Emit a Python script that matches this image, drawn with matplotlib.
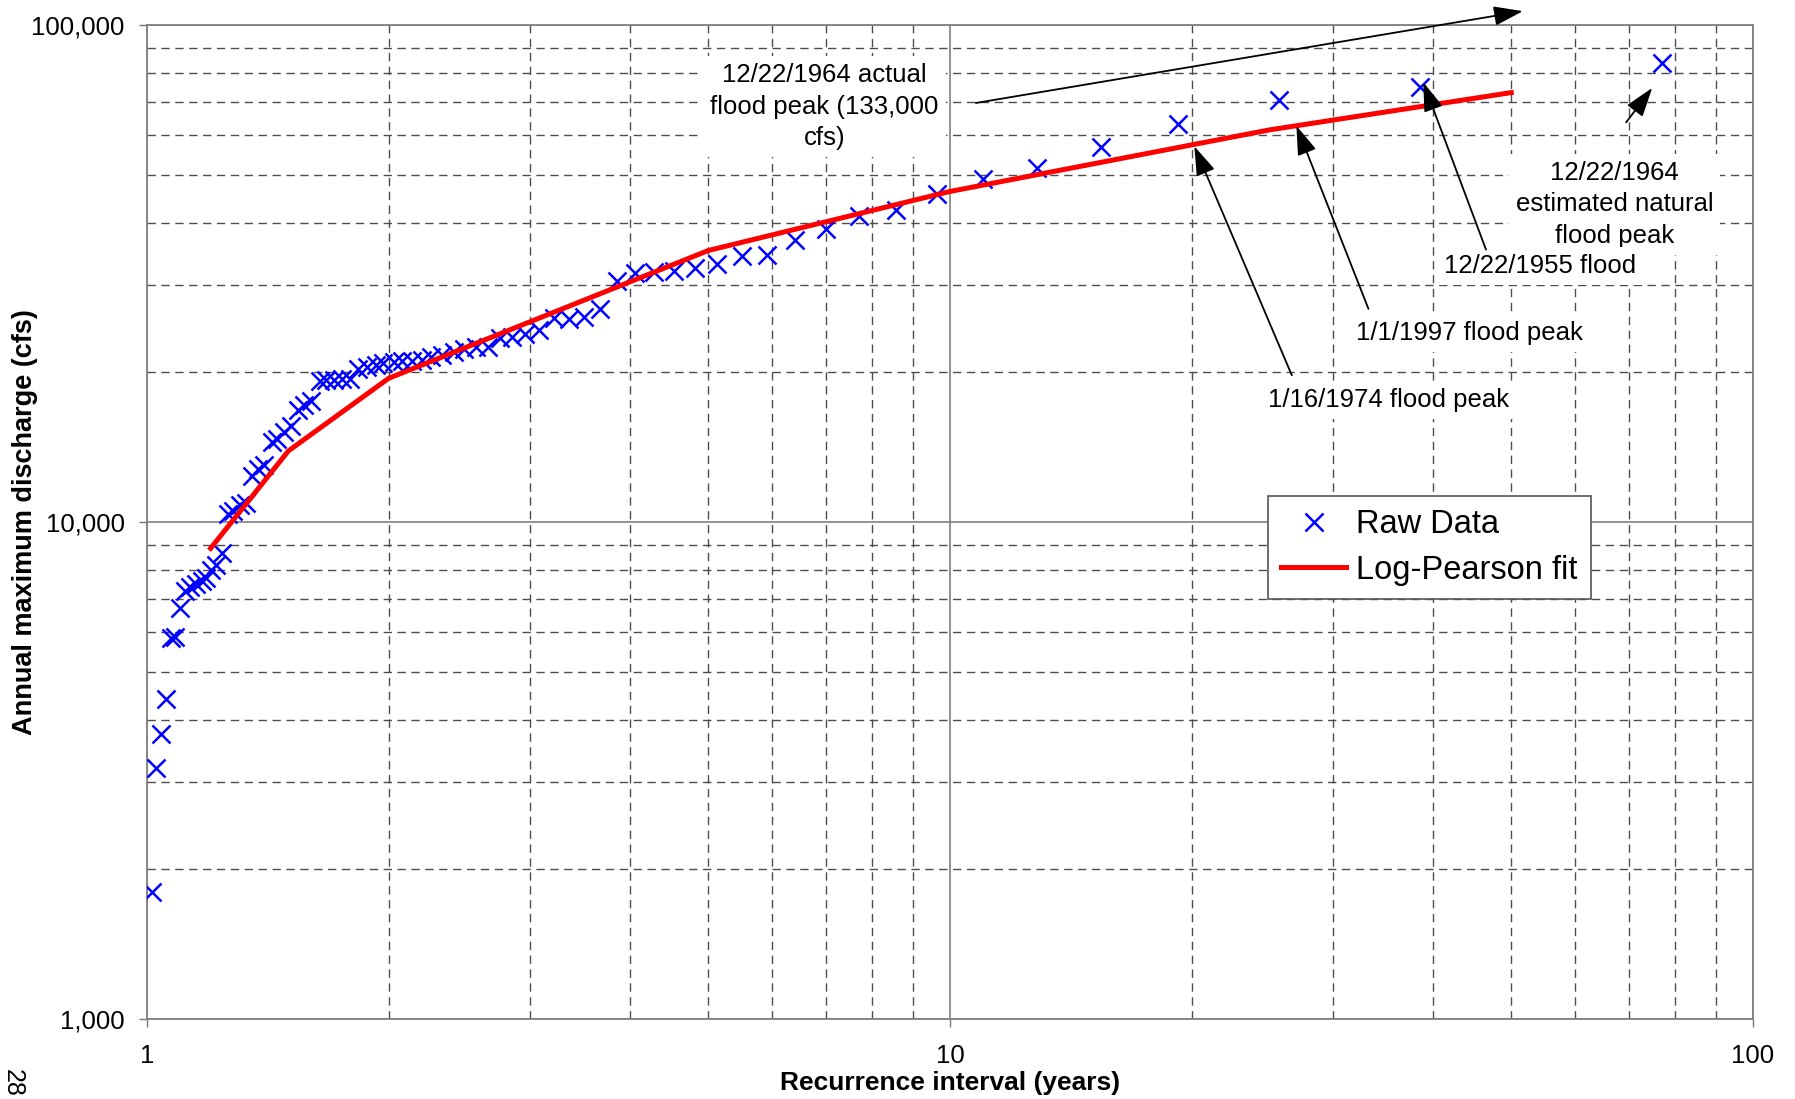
import numpy as np
import matplotlib
matplotlib.use("Agg")
import matplotlib.pyplot as plt
from matplotlib.ticker import FixedLocator, FuncFormatter, NullFormatter

plt.rcParams['font.family'] = ['Liberation Sans', 'DejaVu Sans']

# recurrence interval (years) of each ranked annual peak
recurrence = [77.0, 38.5, 25.67, 19.25, 15.4, 12.83, 11.0, 9.63, 8.56, 7.7,
              7.0, 6.42, 5.92, 5.5, 5.13, 4.81, 4.53, 4.28, 4.05, 3.85,
              3.67, 3.5, 3.35, 3.21, 3.08, 2.96, 2.85, 2.75, 2.66, 2.57,
              2.48, 2.41, 2.33, 2.26, 2.2, 2.14, 2.08, 2.03, 1.97, 1.93,
              1.88, 1.83, 1.79, 1.75, 1.71, 1.67, 1.64, 1.60, 1.57, 1.54,
              1.51, 1.48, 1.45, 1.43, 1.40, 1.375, 1.35, 1.33, 1.305, 1.28,
              1.26, 1.24, 1.22, 1.20, 1.185, 1.17, 1.15, 1.13, 1.116, 1.10,
              1.085, 1.07, 1.055, 1.04, 1.027, 1.013]

# annual maximum discharge (cfs)
discharge = [83700, 75000, 70500, 63300, 56800, 51500, 48900, 45700, 42400, 41300,
             38900, 37000, 34500, 34300, 33000, 32400, 32000, 31900, 31700, 30500,
             26800, 25800, 25600, 25700, 24300, 23900, 23600, 23400, 22500, 22500,
             22300, 22000, 21700, 21500, 21200, 21100, 21100, 21000, 20900, 20700,
             20500, 20300, 19400, 19400, 19300, 19300, 19200, 17500, 17200, 16800,
             15600, 15200, 14700, 14500, 13000, 12800, 12400, 10900, 10800, 10500,
             10400, 8650, 8200, 8000, 7700, 7600, 7500, 7400, 7250, 6700,
             5870, 5840, 4400, 3750, 3200, 1800]

# Log-Pearson fit
fit_ri = [1.2, 1.5, 2.0, 5.0, 10.0, 25.0, 50.0]
fit_q = [8850, 13900, 19460, 35170, 46240, 61500, 73100]

# annotations: (text, text position, arrow tail, arrow tip)
notes = [
    ("12/22/1964 actual\nflood peak (133,000\ncfs)", (6.98, 68500), (10.77, 69660), (51.7, 106600)),
    ("12/22/1964\nestimated natural\nflood peak", (67.2, 43600), (69.5, 63680), (74.9, 74690)),
    ("12/22/1955 flood", (54.3, 32700), (46.5, 35330), (38.85, 76700)),
    ("1/1/1997 flood peak", (44.3, 24000), (33.2, 26840), (27.0, 62700)),
    ("1/16/1974 flood peak", (35.2, 17600), (26.65, 19730), (20.15, 57000)),
]

fig = plt.figure(figsize=(17.95, 10.99), dpi=100)
ax = fig.add_axes([0.0819, 0.0728, 0.8947, 0.9045])
ax.set_xscale('log')
ax.set_yscale('log')
ax.set_xlim(1, 100)
ax.set_ylim(1000, 100000)

minor_x = [m * d for d in (1, 10) for m in range(2, 10)]
minor_y = [m * d for d in (1000, 10000) for m in range(2, 10)]
ax.xaxis.set_major_locator(FixedLocator([1, 10, 100]))
ax.xaxis.set_minor_locator(FixedLocator(minor_x))
ax.yaxis.set_major_locator(FixedLocator([1000, 10000, 100000]))
ax.yaxis.set_minor_locator(FixedLocator(minor_y))
ax.xaxis.set_major_formatter(FuncFormatter(lambda v, p: f"{v:,.0f}"))
ax.yaxis.set_major_formatter(FuncFormatter(lambda v, p: f"{v:,.0f}"))
ax.xaxis.set_minor_formatter(NullFormatter())
ax.yaxis.set_minor_formatter(NullFormatter())
ax.tick_params(which='major', length=6, width=1, color='#777777', labelsize=18.5)
ax.tick_params(axis='x', which='major', pad=12)
ax.tick_params(axis='y', which='major', pad=10)
ax.tick_params(which='minor', length=0)

ax.grid(True, which='major', color='#808080', lw=1.2, ls='-')
ax.grid(True, which='minor', color='#4d4d4d', lw=1.0, ls=(0, (6, 4)))
ax.set_axisbelow(True)
for s in ax.spines.values():
    s.set_color('#808080')
    s.set_linewidth(1.3)

ax.plot(recurrence, discharge, 'x', color='#0000ff', ms=13, mew=1.8,
        label='Raw Data', zorder=3)
ax.plot(fit_ri, fit_q, '-', color='#ff0000', lw=3.6, label='Log-Pearson fit',
        zorder=4)

for text, pos, tail, tip in notes:
    ax.text(pos[0], pos[1], text, fontsize=18.5, ha='center', va='center',
            linespacing=1.4, zorder=5,
            bbox=dict(facecolor='white', edgecolor='none', pad=5))
    ax.annotate('', xy=tip, xytext=tail, annotation_clip=False, zorder=6,
                arrowprops=dict(arrowstyle='-|>,head_length=0.9,head_width=0.3',
                                color='black', lw=1.3, mutation_scale=20,
                                shrinkA=0, shrinkB=0))

leg = ax.legend(loc='upper left', bbox_to_anchor=(0.698, 0.526), fontsize=23.5,
                frameon=True, fancybox=False, handlelength=2.0,
                borderpad=0.4, labelspacing=0.45, handletextpad=0.3,
                borderaxespad=0)
leg.get_frame().set_edgecolor('#555555')
leg.get_frame().set_linewidth(1.2)
leg.get_frame().set_alpha(1)

ax.set_xlabel('Recurrence interval (years)', fontsize=19, fontweight='bold')
ax.set_ylabel('Annual maximum discharge (cfs)', fontsize=19.5, fontweight='bold')
ax.xaxis.set_label_coords(0.5, -0.052)
ax.yaxis.set_label_coords(-0.068, 0.5)

fig.text(0.007, 0.015, '28', rotation=270, fontsize=18, ha='center', va='center')

fig.savefig('out.png', dpi=100)
